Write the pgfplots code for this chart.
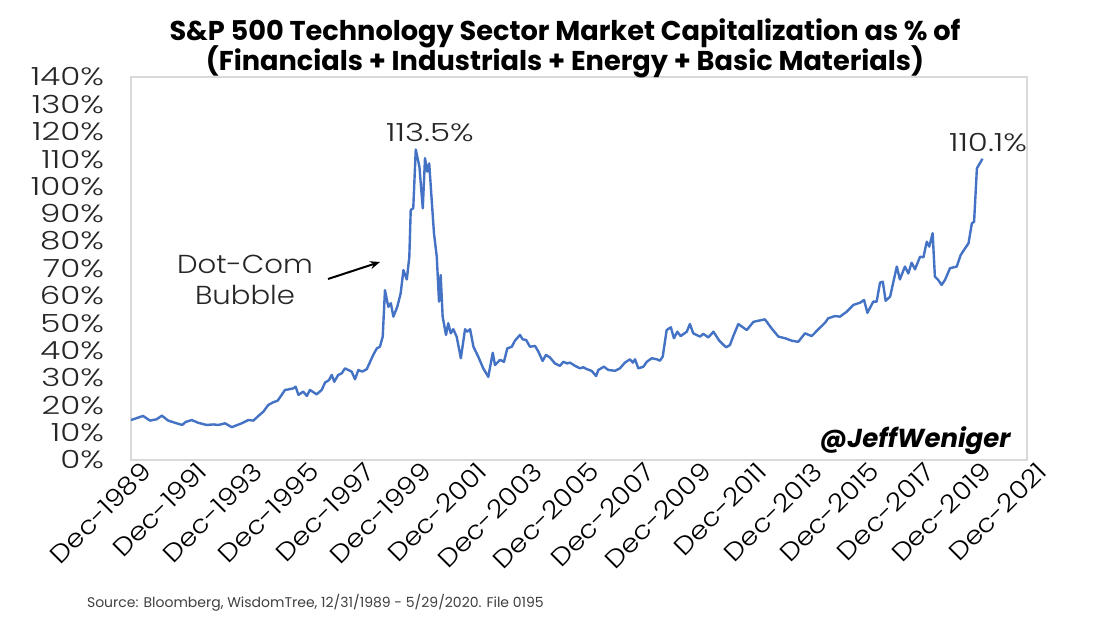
\documentclass[border=0pt]{standalone}
\usepackage{fontspec}
\setmainfont{Poppins}
\newfontfamily\tickfont{Poppins Light}[FakeStretch=1.3]
\newfontfamily\xtickfont{Poppins Light}[FakeStretch=1.12]
\usepackage{pgfplots}
\pgfplotsset{compat=1.18}
\usetikzlibrary{arrows.meta}
\definecolor{xlblue}{HTML}{4472C4}
\definecolor{boxgray}{HTML}{D9D9D9}

% t = years since Dec-1989, value in %
\pgfplotstableread{
t v
0.00 14.6
0.43 16.1
0.68 14.4
0.92 14.9
1.10 16.2
1.33 14.4
1.57 13.6
1.83 12.8
1.95 13.9
2.17 14.6
2.40 13.6
2.70 12.8
2.94 13.0
3.12 12.8
3.36 13.4
3.60 12.0
3.95 13.4
4.19 14.6
4.37 14.4
4.55 16.1
4.73 17.7
4.90 20.1
5.08 21.1
5.24 21.7
5.38 23.8
5.50 25.6
5.62 25.8
5.80 26.2
5.88 26.8
5.98 23.8
6.15 25.0
6.28 23.4
6.39 25.6
6.63 24.0
6.81 25.6
6.93 28.3
7.07 29.2
7.17 31.1
7.26 28.6
7.40 31.1
7.53 31.7
7.64 33.5
7.88 32.3
8.00 29.5
8.12 32.9
8.26 32.3
8.42 33.2
8.54 35.9
8.65 38.4
8.78 40.8
8.89 41.4
8.99 45.1
9.07 62.1
9.19 56.0
9.28 57.3
9.37 52.4
9.51 56.0
9.63 60.9
9.73 69.4
9.85 66.0
9.94 74.3
9.99 91.4
10.08 92.0
10.17 113.5
10.30 107.2
10.42 92.0
10.50 110.3
10.58 105.4
10.65 108.4
10.82 82.9
10.92 74.3
11.00 57.9
11.06 67.6
11.13 52.4
11.25 45.7
11.33 50.0
11.42 46.3
11.51 47.8
11.63 45.1
11.78 37.2
11.93 47.8
12.01 46.9
12.11 47.8
12.23 41.4
12.40 37.8
12.58 33.5
12.76 30.4
12.92 39.2
13.00 34.7
13.18 36.6
13.32 35.9
13.44 40.8
13.60 41.4
13.71 43.6
13.89 45.7
13.99 44.1
14.11 43.9
14.25 41.4
14.43 41.7
14.55 39.6
14.70 36.2
14.82 38.4
14.96 37.5
15.14 35.3
15.32 34.4
15.44 35.9
15.58 35.3
15.68 35.6
15.86 34.4
16.04 33.5
16.15 33.9
16.28 33.2
16.45 32.6
16.61 30.7
16.69 32.9
16.89 34.1
17.05 32.9
17.29 32.6
17.46 33.5
17.64 35.6
17.82 36.8
17.92 35.6
18.00 36.8
18.12 33.5
18.30 34.1
18.42 35.9
18.60 37.2
18.78 36.8
18.89 36.3
18.99 37.8
19.13 47.5
19.28 48.5
19.39 44.5
19.51 46.9
19.63 45.3
19.85 46.9
19.96 49.7
20.08 46.3
20.32 45.1
20.44 46.1
20.62 44.8
20.80 46.9
21.01 43.6
21.25 41.2
21.39 42.0
21.51 45.3
21.69 49.7
21.99 47.5
22.23 50.5
22.40 50.9
22.64 51.4
22.88 48.1
23.12 45.1
23.36 44.5
23.60 43.6
23.83 43.2
24.07 46.3
24.31 45.3
24.55 47.8
24.79 50.2
24.90 51.8
25.14 52.6
25.32 52.4
25.56 54.2
25.80 56.7
26.04 57.5
26.18 58.5
26.30 53.8
26.51 57.9
26.63 57.9
26.75 64.8
26.85 65.2
26.95 58.2
27.11 59.7
27.35 70.7
27.46 66.0
27.64 70.7
27.76 68.2
27.88 72.1
28.00 69.7
28.18 74.3
28.30 74.1
28.42 79.8
28.51 78.0
28.63 82.9
28.71 67.0
28.83 65.8
28.95 64.0
29.07 65.8
29.25 70.1
29.49 70.7
29.63 74.9
29.79 77.4
29.91 79.2
30.03 86.5
30.11 87.1
30.21 106.6
30.41 110.1
}\techdata

\begin{document}
\begin{tikzpicture}
\path[use as bounding box, fill=white] (0,0) rectangle (553pt,312pt);

\begin{axis}[
    at={(65.5pt,82pt)}, anchor=south west,
    scale only axis,
    width=448pt, height=191.5pt,
    xmin=0, xmax=32, ymin=0, ymax=140,
    axis line style={draw=boxgray, line width=0.8pt},
    major tick length=0pt,
    ytick={0,10,...,140},
    yticklabel={\pgfmathprintnumber{\tick}\%},
    yticklabel style={font=\tickfont\fontsize{12.5}{13}\selectfont, text=black!85, xshift=-10pt},
    xtick={0,2,...,32},
    xticklabels={Dec-1989,Dec-1991,Dec-1993,Dec-1995,Dec-1997,Dec-1999,Dec-2001,Dec-2003,Dec-2005,Dec-2007,Dec-2009,Dec-2011,Dec-2013,Dec-2015,Dec-2017,Dec-2019,Dec-2021},
    xticklabel style={font=\xtickfont\fontsize{12.5}{13}\selectfont, rotate=45, anchor=north east, text=black, inner sep=1pt, xshift=4pt, yshift=-2pt},
    /pgf/number format/assume math mode=true,
    clip=false,
]
\addplot[xlblue, line width=1.2pt, line join=round] table[x=t, y=v] {\techdata};
\end{axis}

% title
\node[font=\bfseries\fontsize{13.6}{15}\selectfont] at (282.5pt,295.5pt) {S\&P 500 Technology Sector Market Capitalization as \% of};
\node[font=\bfseries\fontsize{13.6}{15}\selectfont] at (282.5pt,281pt) {(Financials + Industrials + Energy + Basic Materials)};

% annotations
\node[font=\xtickfont\fontsize{13}{15.5}\selectfont, align=center, text=black!85] at (122.5pt,172pt) {Dot-Com\\Bubble};
\draw[-{Stealth[length=5pt,width=4pt]}, line width=1pt] (164pt,172.5pt) -- (190pt,181pt);
\node[font=\tickfont\fontsize{12.5}{13}\selectfont, text=black!85] at (215pt,245.5pt) {113.5\%};
\node[font=\tickfont\fontsize{12.5}{13}\selectfont, text=black!85] at (494pt,240.5pt) {110.1\%};
\node[font=\bfseries\itshape\fontsize{13}{14}\selectfont] at (457.5pt,91.5pt) {@JeffWeniger};

% source
\node[font=\fontsize{7}{8}\selectfont, anchor=west, text=black!75] at (40pt,10.5pt) {Source: Bloomberg, WisdomTree, 12/31/1989 - 5/29/2020. File 0195};
\end{tikzpicture}
\end{document}
